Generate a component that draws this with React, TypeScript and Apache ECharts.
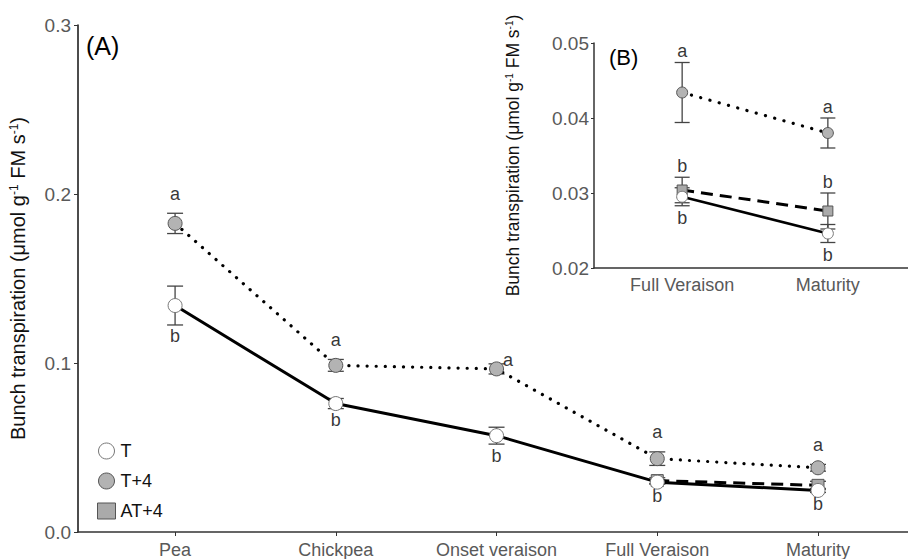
import React, { useEffect, useRef } from "react";
import * as echarts from "echarts";

const categories = ["Pea", "Chickpea", "Onset veraison", "Full Veraison", "Maturity"];
const insetCategories = ["Full Veraison", "Maturity"];
const insetStart = 3;

const tMean = [0.134, 0.076, 0.057, 0.0295, 0.0246];
const tErr = [0.0115, 0.003, 0.005, 0.0012, 0.0012];
const t4Mean = [0.1826, 0.0986, 0.0965, 0.0434, 0.038];
const t4Err = [0.006, 0.0035, 0.003, 0.004, 0.002];
const at4Mean = [null, null, null, 0.0304, 0.0276];
const at4Err = [null, null, null, 0.0017, 0.0024];

const t4Letters = ["a", "a", "a", "a", "a"];
const tLetters = ["b", "b", "b", "b", "b"];
const at4LettersInset = ["b", "b"];

const mainTicks = [0, 0.1, 0.2, 0.3];
const insetTicks = [0.02, 0.03, 0.04, 0.05];

const FONT = "'Liberation Sans', Arial, sans-serif";

export default function App() {
  const ref = useRef<HTMLDivElement>(null);
  useEffect(() => {
    document.body.style.margin = "0";
    const chart = echarts.init(ref.current!, null, { renderer: "svg" });

    const idx = (arr: any[]) => arr.map((v, i) => (v == null ? null : [i, v]));
    const insetIdx = (arr: any[]) => arr.slice(insetStart).map((v, i) => (v == null ? null : [i, v]));

    const errData = (m: any[], e: any[], offset = 0) =>
      m
        .map((v, i) => (v == null || i < offset ? null : [i - offset, v - e[i], v + e[i]]))
        .filter((d) => d != null);

    const errSeries = (data: any[], grid: number, cap: number) => ({
      type: "custom",
      xAxisIndex: grid,
      yAxisIndex: grid,
      z: 1,
      silent: true,
      data,
      renderItem: (params: any, api: any) => {
        const x = api.value(0);
        const lo = api.coord([x, api.value(1)]);
        const hi = api.coord([x, api.value(2)]);
        const hw = cap / 2;
        const st = { stroke: "#444", lineWidth: 1.3 };
        return {
          type: "group",
          children: [
            { type: "line", shape: { x1: hi[0], y1: hi[1], x2: lo[0], y2: lo[1] }, style: st },
            { type: "line", shape: { x1: hi[0] - hw, y1: hi[1], x2: hi[0] + hw, y2: hi[1] }, style: st },
            { type: "line", shape: { x1: lo[0] - hw, y1: lo[1], x2: lo[0] + hw, y2: lo[1] }, style: st },
          ],
        };
      },
    });

    const labelStyle = { color: "#000", fontSize: 18, fontFamily: FONT };

    const mainLetterData: any[] = [];
    t4Mean.forEach((v, i) => {
      if (i === 2) {
        mainLetterData.push({
          value: [i, v],
          name: t4Letters[i],
          label: { position: "right", distance: 6, offset: [0, -9], color: "#000" },
        });
      } else {
        mainLetterData.push({
          value: [i, v + t4Err[i]],
          name: t4Letters[i],
          label: { position: "top", distance: 10, color: "#000" },
        });
      }
    });
    tMean.forEach((v, i) => {
      mainLetterData.push({
        value: [i, v - tErr[i]],
        name: tLetters[i],
        label: { position: "bottom", distance: 2, color: "#000" },
      });
    });

    const insetLetterData: any[] = [];
    for (let i = insetStart; i < categories.length; i++) {
      const j = i - insetStart;
      insetLetterData.push({ value: [j, t4Mean[i] + t4Err[i]], name: t4Letters[i], label: { position: "top", distance: 2, color: "#000" } });
      insetLetterData.push({ value: [j, (at4Mean[i] as number) + (at4Err[i] as number)], name: at4LettersInset[j], label: { position: "top", distance: 2, color: "#000" } });
      insetLetterData.push({ value: [j, tMean[i] - tErr[i]], name: tLetters[i], label: { position: "bottom", distance: 3, color: "#000" } });
    }

    const letterSeries = (data: any[], grid: number) => ({
      type: "scatter",
      xAxisIndex: grid,
      yAxisIndex: grid,
      symbolSize: 1,
      itemStyle: { color: "rgba(0,0,0,0)" },
      silent: true,
      z: 5,
      label: { show: true, formatter: (p: any) => p.name, ...labelStyle },
      data,
    });

    const tStyle = { color: "#fff", borderColor: "#777", borderWidth: 1 };
    const t4Style = { color: "#b3b3b3", borderColor: "#555", borderWidth: 1 };
    const at4Style = { color: "#aaaaaa", borderColor: "#555", borderWidth: 1 };

    const lineSeries = (name: string, data: any[], grid: number, symbol: string, size: number, item: any, lt: any, lw: number) => ({
      type: "line",
      name,
      xAxisIndex: grid,
      yAxisIndex: grid,
      data,
      symbol,
      symbolSize: size,
      showSymbol: true,
      connectNulls: false,
      z: 3,
      itemStyle: item,
      lineStyle: { color: "#000", width: lw, type: lt, cap: Array.isArray(lt) && lt[0] < 1 ? "round" : "butt" },
    });

    const yLabelName = "Bunch transpiration (μmol g{sup|-1} FM s{sup|-1})";

    const option: any = {
      animation: false,
      backgroundColor: "#fff",
      textStyle: { fontFamily: FONT },
      legend: {
        orient: "vertical",
        left: 92,
        top: 437,
        itemWidth: 18,
        itemHeight: 16,
        itemGap: 12,
        textStyle: { fontSize: 18, color: "#111", fontFamily: FONT },
        data: [
          { name: "T", icon: "circle", itemStyle: tStyle },
          { name: "T+4", icon: "circle", itemStyle: t4Style },
          { name: "AT+4", icon: "rect", itemStyle: at4Style },
        ],
      },
      graphic: [
        { type: "text", left: 86, top: 33, style: { text: "(A)", fontSize: 25, fill: "#000", fontFamily: FONT } },
        { type: "text", left: 609, top: 46, style: { text: "(B)", fontSize: 22, fill: "#000", fontFamily: FONT } },
      ],
      grid: [
        { left: 78, right: 0, top: 25, bottom: 23 },
        { left: 594, right: 0, top: 43, height: 225 },
      ],
      xAxis: [
        {
          type: "value",
          gridIndex: 0,
          min: -0.604,
          max: 4.56,
          splitLine: { show: false },
          axisLine: { onZero: false, lineStyle: { color: "#333", width: 1.5 } },
          axisTick: { show: true, customValues: categories.map((_, i) => i), length: 4, lineStyle: { color: "#333" } },
          axisLabel: {
            customValues: categories.map((_, i) => i),
            formatter: (v: number) => categories[Math.round(v)] ?? "",
            color: "#595959",
            fontSize: 18,
            margin: 9,
            fontFamily: FONT,
          },
        },
        {
          type: "value",
          gridIndex: 1,
          min: -0.605,
          max: 1.55,
          splitLine: { show: false },
          axisLine: { onZero: false, lineStyle: { color: "#333", width: 1.5 } },
          axisTick: { show: false, customValues: insetCategories.map((_, i) => i) },
          axisLabel: {
            customValues: insetCategories.map((_, i) => i),
            formatter: (v: number) => insetCategories[Math.round(v)] ?? "",
            color: "#595959",
            fontSize: 18,
            margin: 8,
            fontFamily: FONT,
          },
        },
      ],
      yAxis: [
        {
          type: "value",
          gridIndex: 0,
          min: mainTicks[0],
          max: mainTicks[mainTicks.length - 1],
          interval: 0.1,
          splitLine: { show: false },
          axisLine: { show: true, onZero: false, lineStyle: { color: "#111", width: 1.5 } },
          axisTick: { show: true, length: 4, lineStyle: { color: "#333" } },
          axisLabel: { formatter: (v: number) => v.toFixed(1), color: "#595959", fontSize: 19, margin: 7, fontFamily: FONT },
          name: yLabelName,
          nameLocation: "middle",
          nameGap: 50,
          nameTextStyle: {
            fontSize: 20,
            color: "#111",
            fontFamily: FONT,
            rich: { sup: { fontSize: 12, verticalAlign: "top", color: "#111", fontFamily: FONT } },
          },
        },
        {
          type: "value",
          gridIndex: 1,
          min: insetTicks[0],
          max: insetTicks[insetTicks.length - 1],
          interval: 0.01,
          splitLine: { show: false },
          axisLine: { show: true, onZero: false, lineStyle: { color: "#333", width: 1.5 } },
          axisTick: { show: true, length: 3, lineStyle: { color: "#333" } },
          axisLabel: { formatter: (v: number) => v.toFixed(2), color: "#595959", fontSize: 19, margin: 5, fontFamily: FONT },
          name: yLabelName,
          nameLocation: "middle",
          nameGap: 72,
          nameTextStyle: {
            fontSize: 17.5,
            color: "#111",
            fontFamily: FONT,
            rich: { sup: { fontSize: 10, verticalAlign: "top", color: "#111", fontFamily: FONT } },
          },
        },
      ],
      series: [
        errSeries(errData(tMean, tErr), 0, 16),
        errSeries(errData(t4Mean, t4Err), 0, 16),
        errSeries(errData(at4Mean, at4Err), 0, 16),
        lineSeries("AT+4", idx(at4Mean), 0, "rect", 12, at4Style, [12, 7], 3),
        lineSeries("T+4", idx(t4Mean), 0, "circle", 14, t4Style, [0.1, 9], 3.2),
        lineSeries("T", idx(tMean), 0, "circle", 14, tStyle, "solid", 3),
        letterSeries(mainLetterData, 0),

        errSeries(errData(tMean, tErr, insetStart), 1, 15),
        errSeries(errData(t4Mean, t4Err, insetStart), 1, 15),
        errSeries(errData(at4Mean, at4Err, insetStart), 1, 15),
        lineSeries("AT+4", insetIdx(at4Mean), 1, "rect", 10, at4Style, [12, 7], 3),
        lineSeries("T+4", insetIdx(t4Mean), 1, "circle", 11, t4Style, [0.1, 9.5], 3.2),
        lineSeries("T", insetIdx(tMean), 1, "circle", 11, tStyle, "solid", 2.5),
        letterSeries(insetLetterData, 1),
      ],
    };
    chart.setOption(option);
    return () => chart.dispose();
  }, []);
  return <div ref={ref} style={{ width: 908, height: 559 }} />;
}
